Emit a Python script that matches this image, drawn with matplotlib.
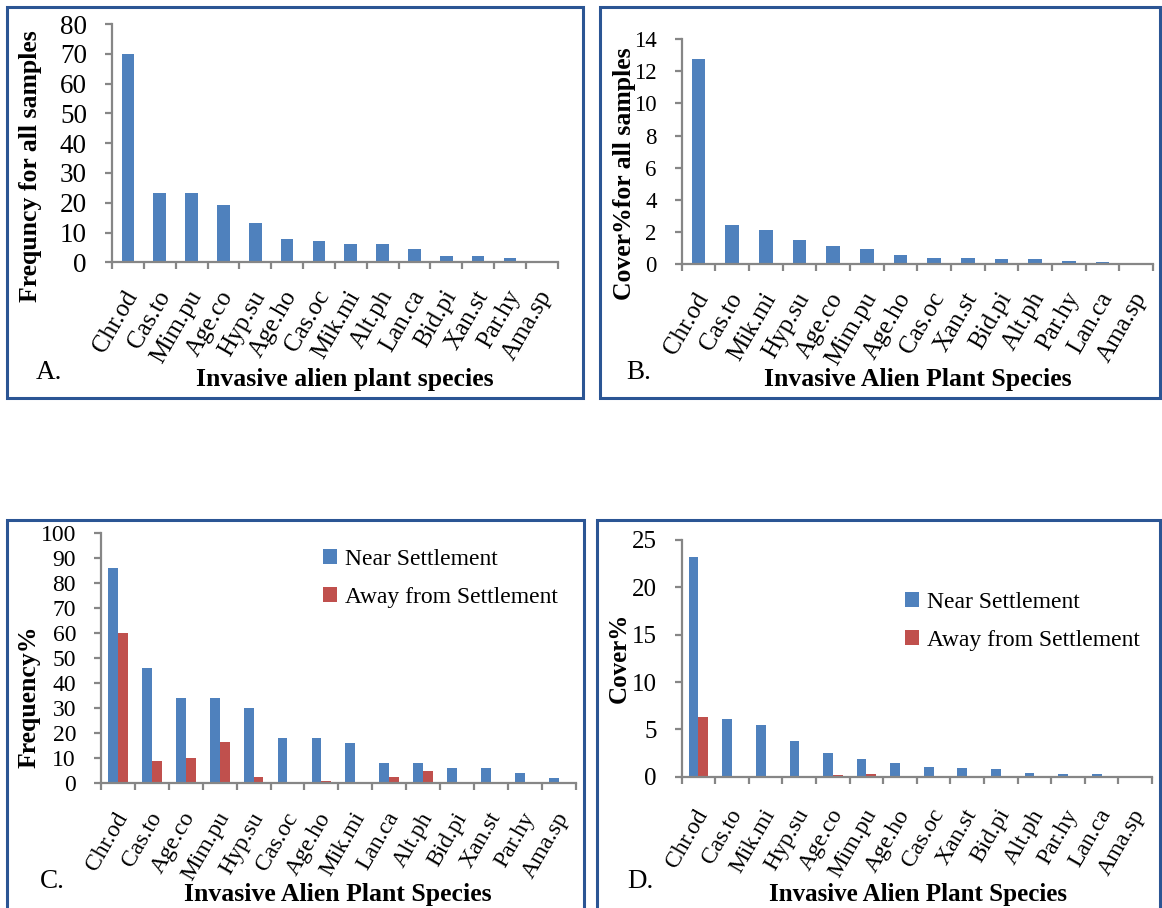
import numpy as np
import matplotlib.pyplot as plt
from matplotlib.patches import Rectangle

# Panel A: frequency for all samples
species_a = ["Chr.od", "Cas.to", "Mim.pu", "Age.co", "Hyp.su", "Age.ho", "Cas.oc",
             "Mik.mi", "Alt.ph", "Lan.ca", "Bid.pi", "Xan.st", "Par.hy", "Ama.sp"]
freq_all = [70, 23.2, 23.2, 19.3, 13.2, 7.7, 7.0, 6.0, 6.0, 4.5, 2.2, 2.2, 1.6, 0.6]

# Panel B: cover% for all samples
species_b = ["Chr.od", "Cas.to", "Mik.mi", "Hyp.su", "Age.co", "Mim.pu", "Age.ho",
             "Cas.oc", "Xan.st", "Bid.pi", "Alt.ph", "Par.hy", "Lan.ca", "Ama.sp"]
cover_all = [12.75, 2.45, 2.15, 1.5, 1.15, 0.95, 0.6, 0.42, 0.37, 0.35, 0.3, 0.18, 0.12, 0.05]

# Panel C: frequency% near / away from settlement
species_c = ["Chr.od", "Cas.to", "Age.co", "Mim.pu", "Hyp.su", "Cas.oc", "Age.ho",
             "Mik.mi", "Lan.ca", "Alt.ph", "Bid.pi", "Xan.st", "Par.hy", "Ama.sp"]
freq_near = [86, 46, 34, 34, 30, 18, 18, 16, 8, 8, 6, 6, 4, 2]
freq_away = [60, 8.8, 10, 16.5, 2.7, 0, 1.1, 0, 2.7, 5, 0, 0, 0, 0]

# Panel D: cover% near / away from settlement
species_d = species_b
cover_near = [23.2, 6.1, 5.5, 3.8, 2.5, 1.9, 1.4, 1.0, 0.9, 0.8, 0.4, 0.3, 0.3, 0.05]
cover_away = [6.3, 0.08, 0, 0, 0.2, 0.3, 0, 0, 0, 0, 0.05, 0, 0, 0]

BLUE = "#4F81BD"
RED = "#C0504D"
GREY = "#868686"
FRAME = "#2B5594"

W, H = 1162, 908
plt.rcParams["font.family"] = ["Liberation Serif", "DejaVu Serif"]
fig = plt.figure(figsize=(W / 100, H / 100), dpi=100)


def fx(x):
    return x / W


def fy(y):
    return 1 - y / H


def add_axes(left, top, right, bottom):
    return fig.add_axes([fx(left), fy(bottom), (right - left) / W, (bottom - top) / H])


def frame(x0, y0, x1, y1):
    fig.patches.append(Rectangle((fx(x0), fy(y1)), (x1 - x0) / W, (y1 - y0) / H,
                                 transform=fig.transFigure, fill=False,
                                 edgecolor=FRAME, lw=2.2))


def style(ax, labels, ymax, ystep, yfs, xfs, xpad, shift_px=5):
    n = len(labels)
    ax.set_xlim(0, n)
    ax.set_ylim(0, ymax)
    ax.set_yticks(np.arange(0, ymax + ystep / 2, ystep))
    # label anchors nudged a few pixels right, as in the original rotated labels
    cat_px = ax.get_position().width * W / n
    ax.set_xticks(np.arange(n) + 0.5 + shift_px / cat_px)
    ax.set_xticklabels(labels, rotation=60, ha="right", va="center", rotation_mode="anchor")
    ax.set_xticks(np.arange(n + 1), minor=True)
    for s in ["top", "right"]:
        ax.spines[s].set_visible(False)
    for s in ["left", "bottom"]:
        ax.spines[s].set_color(GREY)
        ax.spines[s].set_linewidth(1.6)
    ax.tick_params(axis="x", which="major", length=0, pad=xpad, labelsize=xfs)
    ax.tick_params(axis="x", which="minor", length=5, width=1.6, color=GREY, direction="out")
    ax.tick_params(axis="y", length=5, width=1.6, color=GREY, direction="out",
                   pad=13, labelsize=yfs)


def label(ax, xtext, xc, yc_x, ytext, yx, yc, fs):
    ax.set_xlabel(xtext, fontsize=fs, fontweight="bold", va="center")
    ax.xaxis.set_label_coords(fx(xc), fy(yc_x), transform=fig.transFigure)
    ax.set_ylabel(ytext, fontsize=fs, fontweight="bold", va="center")
    ax.yaxis.set_label_coords(fx(yx), fy(yc), transform=fig.transFigure)


def legend(ax, x, y, fs):
    ax.legend(loc="upper left", bbox_to_anchor=(fx(x), fy(y)), bbox_transform=fig.transFigure,
              frameon=False, fontsize=fs, handlelength=0.6, handleheight=0.6,
              handletextpad=0.35, labelspacing=0.72, borderpad=0, borderaxespad=0)


frame(7, 7, 583, 398)
frame(600, 7, 1160, 398)
frame(7, 520, 584, 912)
frame(597, 520, 1160, 912)

# A
ax = add_axes(112, 24, 557.7, 262.3)
x = np.arange(len(species_a)) + 0.5
ax.bar(x, freq_all, width=0.4, color=BLUE)
style(ax, species_a, 80, 10, 19.5, 18, 21.5)
label(ax, "Invasive alien plant species", 345, 380,
      "Frequncy for all samples", 31, 166, 18.5)
fig.text(fx(49), fy(372), "A.", fontsize=19.5, ha="center", va="center")

# B
ax = add_axes(681.7, 39, 1153, 264.3)
x = np.arange(len(species_b)) + 0.5
ax.bar(x, cover_all, width=0.4, color=BLUE)
style(ax, species_b, 14, 2, 16.5, 18, 21.5)
label(ax, "Invasive Alien Plant Species", 918, 380,
      "Cover%for all samples", 624, 174, 18.5)
fig.text(fx(639), fy(372), "B.", fontsize=19.5, ha="center", va="center")

# C
ax = add_axes(101, 533, 575.7, 783.3)
x = np.arange(len(species_c)) + 0.5
w = 0.29
ax.bar(x - w / 2, freq_near, width=w, color=BLUE, label="Near Settlement")
ax.bar(x + w / 2, freq_away, width=w, color=RED, label="Away from Settlement")
style(ax, species_c, 100, 10, 17, 17, 22)
label(ax, "Invasive Alien Plant Species", 338, 895,
      "Frequency%", 29, 697, 18.5)
legend(ax, 323, 549, 17)
fig.text(fx(52), fy(881), "C.", fontsize=19.5, ha="center", va="center")

# D
ax = add_axes(681.7, 540, 1152, 776.7)
x = np.arange(len(species_d)) + 0.5
ax.bar(x - w / 2, cover_near, width=w, color=BLUE, label="Near Settlement")
ax.bar(x + w / 2, cover_away, width=w, color=RED, label="Away from Settlement")
style(ax, species_d, 25, 5, 18, 17, 24.5)
label(ax, "Invasive Alien Plant Species", 918, 895,
      "Cover%", 619, 658, 18)
legend(ax, 905, 592, 17)
fig.text(fx(640), fy(881), "D.", fontsize=19.5, ha="center", va="center")

fig.savefig("out.png", dpi=100)
